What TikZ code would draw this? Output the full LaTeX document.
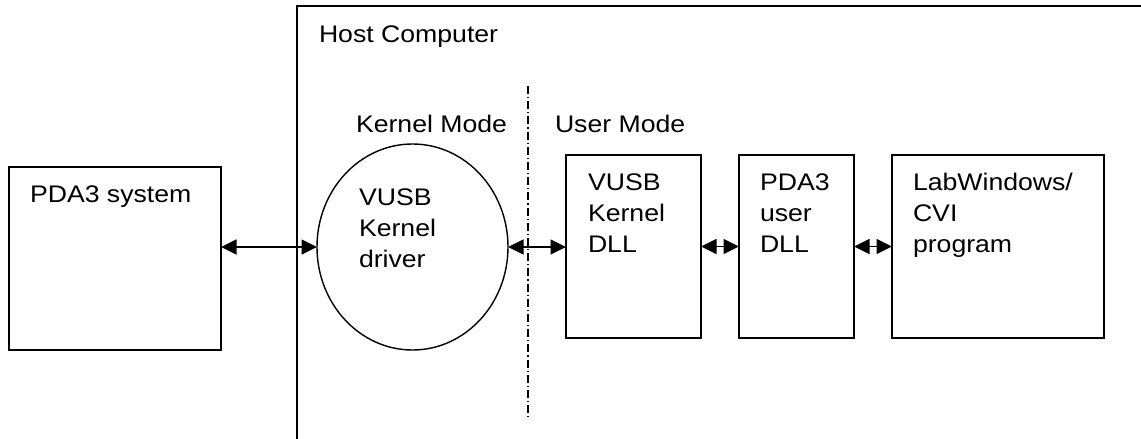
\documentclass[tikz,border=0pt]{standalone}
\usepackage{fontspec}
\setmainfont{Liberation Sans}[FakeStretch=1.11]
\usetikzlibrary{shapes.geometric,arrows.meta}
\begin{document}
\begin{tikzpicture}[x=1pt,y=-1pt,
  box/.style={draw,line width=1.8pt,rectangle,inner sep=0pt,outer sep=0pt,anchor=north west},
  lbl/.style={anchor=base west,inner sep=0pt,outer sep=0pt,align=left,font=\fontsize{24}{31}\selectfont},
  tip/.tip={Triangle[length=15.5pt,width=15pt]},
  link/.style={line width=1.6pt,tip-tip},
  modeline/.style={line width=1.2pt,dash pattern=on 8pt off 3pt on 1.2pt off 3pt}]
\useasboundingbox (0,0) rectangle (1141,439);
\clip (0,0) rectangle (1141,439);
\fill[white] (0,0) rectangle (1141,439);
% host computer frame (continues beyond the picture)
\node[box,line width=2pt,minimum width=900pt,minimum height=500pt] (host) at (297,6) {};
\node[lbl] (hostlbl) at (319,42) {Host Computer};
% mode separator
\coordinate (dtop) at (528,86);
\coordinate (dbot) at (528,420);
\draw[modeline] (dtop) -- (dbot);
\node[lbl] (kmode) at (356,132) {Kernel Mode};
\node[lbl] (umode) at (555,132) {User Mode};
% blocks
\node[box,minimum width=212pt,minimum height=183pt] (pda) at (9,167) {};
\node[lbl] (pdalbl) at (30,202) {PDA3 system};
\node[draw,ellipse,line width=1.4pt,inner sep=0pt,outer sep=0pt,minimum width=191pt,minimum height=206pt] (kd) at (412.5,247) {};
\node[lbl] (kdlbl) at (359,267) {VUSB\\Kernel\\driver};
\node[box,minimum width=135pt,minimum height=183pt] (vdll) at (566,155) {};
\node[lbl] (vdlllbl) at (588,252) {VUSB\\Kernel\\DLL};
\node[box,minimum width=115pt,minimum height=183pt] (udll) at (739,155) {};
\node[lbl] (udlllbl) at (760,252) {PDA3\\user\\DLL};
\node[box,minimum width=212pt,minimum height=183pt] (lab) at (892,155) {};
\node[lbl] (lablbl) at (913,252) {LabWindows/\\CVI\\program};
% connectors
\draw[link] (kd.west -| pda.east) -- (kd.west);
\draw[link] (kd.east) -- (kd.east -| vdll.west);
\draw[link] (vdll.west -| vdll.east) -- (vdll.west -| udll.west);
\draw[link] (udll.west -| udll.east) -- (udll.west -| lab.west);
\end{tikzpicture}
\end{document}
